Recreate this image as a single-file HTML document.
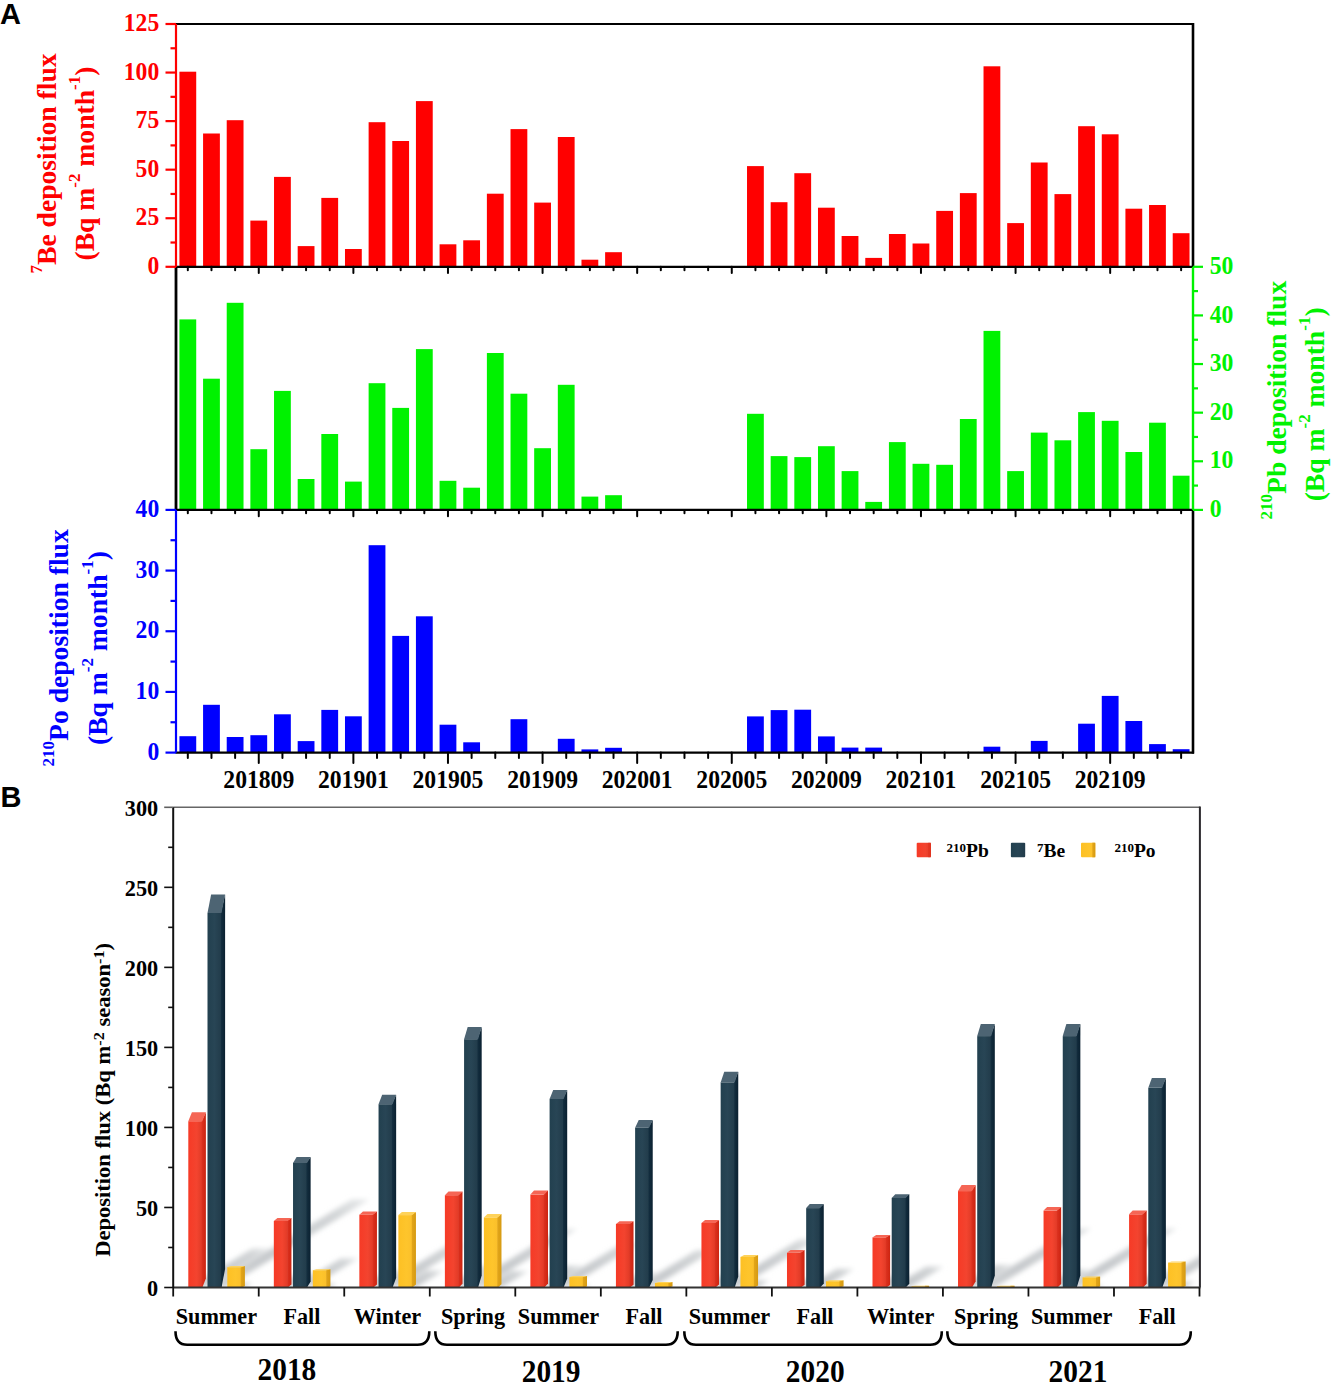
<!DOCTYPE html><html><head><meta charset="utf-8"><style>html,body{margin:0;padding:0;background:#fff;}svg{display:block}text{font-family:"Liberation Serif",serif;font-weight:bold}.sans{font-family:"Liberation Sans",sans-serif}</style></head><body>
<svg width="1333" height="1385" viewBox="0 0 1333 1385">
<rect width="1333" height="1385" fill="#fff"/>
<text class="sans" x="0" y="24" font-size="29" fill="#000">A</text>
<text class="sans" x="0.6" y="807.3" font-size="29" fill="#000">B</text>
<rect x="179.42" y="71.70" width="16.8" height="195.10" fill="#ff0000"/><rect x="203.07" y="133.50" width="16.8" height="133.30" fill="#ff0000"/><rect x="226.72" y="120.20" width="16.8" height="146.60" fill="#ff0000"/><rect x="250.37" y="220.60" width="16.8" height="46.20" fill="#ff0000"/><rect x="274.03" y="176.90" width="16.8" height="89.90" fill="#ff0000"/><rect x="297.68" y="246.10" width="16.8" height="20.70" fill="#ff0000"/><rect x="321.33" y="197.90" width="16.8" height="68.90" fill="#ff0000"/><rect x="344.98" y="249.00" width="16.8" height="17.80" fill="#ff0000"/><rect x="368.62" y="122.20" width="16.8" height="144.60" fill="#ff0000"/><rect x="392.27" y="141.00" width="16.8" height="125.80" fill="#ff0000"/><rect x="415.93" y="101.10" width="16.8" height="165.70" fill="#ff0000"/><rect x="439.57" y="244.30" width="16.8" height="22.50" fill="#ff0000"/><rect x="463.23" y="240.30" width="16.8" height="26.50" fill="#ff0000"/><rect x="486.88" y="193.70" width="16.8" height="73.10" fill="#ff0000"/><rect x="510.52" y="129.10" width="16.8" height="137.70" fill="#ff0000"/><rect x="534.18" y="202.60" width="16.8" height="64.20" fill="#ff0000"/><rect x="557.82" y="137.00" width="16.8" height="129.80" fill="#ff0000"/><rect x="581.48" y="259.70" width="16.8" height="7.10" fill="#ff0000"/><rect x="605.12" y="252.20" width="16.8" height="14.60" fill="#ff0000"/><rect x="747.02" y="166.10" width="16.8" height="100.70" fill="#ff0000"/><rect x="770.67" y="202.20" width="16.8" height="64.60" fill="#ff0000"/><rect x="794.32" y="173.20" width="16.8" height="93.60" fill="#ff0000"/><rect x="817.98" y="207.70" width="16.8" height="59.10" fill="#ff0000"/><rect x="841.62" y="236.00" width="16.8" height="30.80" fill="#ff0000"/><rect x="865.27" y="257.90" width="16.8" height="8.90" fill="#ff0000"/><rect x="888.92" y="234.00" width="16.8" height="32.80" fill="#ff0000"/><rect x="912.57" y="243.50" width="16.8" height="23.30" fill="#ff0000"/><rect x="936.23" y="210.90" width="16.8" height="55.90" fill="#ff0000"/><rect x="959.88" y="193.10" width="16.8" height="73.70" fill="#ff0000"/><rect x="983.52" y="66.30" width="16.8" height="200.50" fill="#ff0000"/><rect x="1007.17" y="223.10" width="16.8" height="43.70" fill="#ff0000"/><rect x="1030.82" y="162.50" width="16.8" height="104.30" fill="#ff0000"/><rect x="1054.47" y="194.10" width="16.8" height="72.70" fill="#ff0000"/><rect x="1078.12" y="126.20" width="16.8" height="140.60" fill="#ff0000"/><rect x="1101.77" y="134.30" width="16.8" height="132.50" fill="#ff0000"/><rect x="1125.42" y="208.70" width="16.8" height="58.10" fill="#ff0000"/><rect x="1149.07" y="205.00" width="16.8" height="61.80" fill="#ff0000"/><rect x="1172.72" y="233.20" width="16.8" height="33.60" fill="#ff0000"/>
<rect x="179.42" y="319.40" width="16.8" height="190.50" fill="#00f200"/><rect x="203.07" y="378.70" width="16.8" height="131.20" fill="#00f200"/><rect x="226.72" y="302.80" width="16.8" height="207.10" fill="#00f200"/><rect x="250.37" y="449.20" width="16.8" height="60.70" fill="#00f200"/><rect x="274.03" y="390.90" width="16.8" height="119.00" fill="#00f200"/><rect x="297.68" y="479.00" width="16.8" height="30.90" fill="#00f200"/><rect x="321.33" y="434.00" width="16.8" height="75.90" fill="#00f200"/><rect x="344.98" y="481.60" width="16.8" height="28.30" fill="#00f200"/><rect x="368.62" y="383.20" width="16.8" height="126.70" fill="#00f200"/><rect x="392.27" y="407.90" width="16.8" height="102.00" fill="#00f200"/><rect x="415.93" y="349.10" width="16.8" height="160.80" fill="#00f200"/><rect x="439.57" y="480.80" width="16.8" height="29.10" fill="#00f200"/><rect x="463.23" y="487.70" width="16.8" height="22.20" fill="#00f200"/><rect x="486.88" y="353.00" width="16.8" height="156.90" fill="#00f200"/><rect x="510.52" y="393.70" width="16.8" height="116.20" fill="#00f200"/><rect x="534.18" y="448.20" width="16.8" height="61.70" fill="#00f200"/><rect x="557.82" y="384.80" width="16.8" height="125.10" fill="#00f200"/><rect x="581.48" y="496.60" width="16.8" height="13.30" fill="#00f200"/><rect x="605.12" y="495.20" width="16.8" height="14.70" fill="#00f200"/><rect x="747.02" y="413.80" width="16.8" height="96.10" fill="#00f200"/><rect x="770.67" y="456.10" width="16.8" height="53.80" fill="#00f200"/><rect x="794.32" y="457.10" width="16.8" height="52.80" fill="#00f200"/><rect x="817.98" y="446.20" width="16.8" height="63.70" fill="#00f200"/><rect x="841.62" y="471.10" width="16.8" height="38.80" fill="#00f200"/><rect x="865.27" y="501.90" width="16.8" height="8.00" fill="#00f200"/><rect x="888.92" y="442.10" width="16.8" height="67.80" fill="#00f200"/><rect x="912.57" y="463.80" width="16.8" height="46.10" fill="#00f200"/><rect x="936.23" y="464.80" width="16.8" height="45.10" fill="#00f200"/><rect x="959.88" y="419.00" width="16.8" height="90.90" fill="#00f200"/><rect x="983.52" y="330.90" width="16.8" height="179.00" fill="#00f200"/><rect x="1007.17" y="471.10" width="16.8" height="38.80" fill="#00f200"/><rect x="1030.82" y="432.60" width="16.8" height="77.30" fill="#00f200"/><rect x="1054.47" y="440.30" width="16.8" height="69.60" fill="#00f200"/><rect x="1078.12" y="412.10" width="16.8" height="97.80" fill="#00f200"/><rect x="1101.77" y="420.80" width="16.8" height="89.10" fill="#00f200"/><rect x="1125.42" y="452.00" width="16.8" height="57.90" fill="#00f200"/><rect x="1149.07" y="422.70" width="16.8" height="87.20" fill="#00f200"/><rect x="1172.72" y="475.70" width="16.8" height="34.20" fill="#00f200"/>
<rect x="179.42" y="736.20" width="16.8" height="16.40" fill="#0000ff"/><rect x="203.07" y="704.80" width="16.8" height="47.80" fill="#0000ff"/><rect x="226.72" y="737.00" width="16.8" height="15.60" fill="#0000ff"/><rect x="250.37" y="735.20" width="16.8" height="17.40" fill="#0000ff"/><rect x="274.03" y="714.30" width="16.8" height="38.30" fill="#0000ff"/><rect x="297.68" y="741.10" width="16.8" height="11.50" fill="#0000ff"/><rect x="321.33" y="709.90" width="16.8" height="42.70" fill="#0000ff"/><rect x="344.98" y="716.30" width="16.8" height="36.30" fill="#0000ff"/><rect x="368.62" y="545.20" width="16.8" height="207.40" fill="#0000ff"/><rect x="392.27" y="635.90" width="16.8" height="116.70" fill="#0000ff"/><rect x="415.93" y="616.30" width="16.8" height="136.30" fill="#0000ff"/><rect x="439.57" y="724.70" width="16.8" height="27.90" fill="#0000ff"/><rect x="463.23" y="742.30" width="16.8" height="10.30" fill="#0000ff"/><rect x="510.52" y="719.20" width="16.8" height="33.40" fill="#0000ff"/><rect x="557.82" y="738.80" width="16.8" height="13.80" fill="#0000ff"/><rect x="581.48" y="749.40" width="16.8" height="3.20" fill="#0000ff"/><rect x="605.12" y="747.80" width="16.8" height="4.80" fill="#0000ff"/><rect x="747.02" y="716.40" width="16.8" height="36.20" fill="#0000ff"/><rect x="770.67" y="710.10" width="16.8" height="42.50" fill="#0000ff"/><rect x="794.32" y="709.70" width="16.8" height="42.90" fill="#0000ff"/><rect x="817.98" y="736.40" width="16.8" height="16.20" fill="#0000ff"/><rect x="841.62" y="747.60" width="16.8" height="5.00" fill="#0000ff"/><rect x="865.27" y="747.60" width="16.8" height="5.00" fill="#0000ff"/><rect x="983.52" y="746.70" width="16.8" height="5.90" fill="#0000ff"/><rect x="1030.82" y="740.90" width="16.8" height="11.70" fill="#0000ff"/><rect x="1078.12" y="723.70" width="16.8" height="28.90" fill="#0000ff"/><rect x="1101.77" y="695.90" width="16.8" height="56.70" fill="#0000ff"/><rect x="1125.42" y="721.00" width="16.8" height="31.60" fill="#0000ff"/><rect x="1149.07" y="744.10" width="16.8" height="8.50" fill="#0000ff"/><rect x="1172.72" y="749.20" width="16.8" height="3.40" fill="#0000ff"/>
<line x1="175.5" y1="266.8" x2="1194.0" y2="266.8" stroke="#000" stroke-width="2.2"/><line x1="187.82" y1="266.8" x2="187.82" y2="270.2" stroke="#000" stroke-width="2" stroke-linecap="round"/><line x1="211.47" y1="266.8" x2="211.47" y2="270.2" stroke="#000" stroke-width="2" stroke-linecap="round"/><line x1="235.12" y1="266.8" x2="235.12" y2="270.2" stroke="#000" stroke-width="2" stroke-linecap="round"/><line x1="258.77" y1="266.8" x2="258.77" y2="273.0" stroke="#000" stroke-width="2" stroke-linecap="round"/><line x1="282.43" y1="266.8" x2="282.43" y2="270.2" stroke="#000" stroke-width="2" stroke-linecap="round"/><line x1="306.07" y1="266.8" x2="306.07" y2="270.2" stroke="#000" stroke-width="2" stroke-linecap="round"/><line x1="329.73" y1="266.8" x2="329.73" y2="270.2" stroke="#000" stroke-width="2" stroke-linecap="round"/><line x1="353.38" y1="266.8" x2="353.38" y2="273.0" stroke="#000" stroke-width="2" stroke-linecap="round"/><line x1="377.02" y1="266.8" x2="377.02" y2="270.2" stroke="#000" stroke-width="2" stroke-linecap="round"/><line x1="400.67" y1="266.8" x2="400.67" y2="270.2" stroke="#000" stroke-width="2" stroke-linecap="round"/><line x1="424.32" y1="266.8" x2="424.32" y2="270.2" stroke="#000" stroke-width="2" stroke-linecap="round"/><line x1="447.97" y1="266.8" x2="447.97" y2="273.0" stroke="#000" stroke-width="2" stroke-linecap="round"/><line x1="471.62" y1="266.8" x2="471.62" y2="270.2" stroke="#000" stroke-width="2" stroke-linecap="round"/><line x1="495.27" y1="266.8" x2="495.27" y2="270.2" stroke="#000" stroke-width="2" stroke-linecap="round"/><line x1="518.92" y1="266.8" x2="518.92" y2="270.2" stroke="#000" stroke-width="2" stroke-linecap="round"/><line x1="542.58" y1="266.8" x2="542.58" y2="273.0" stroke="#000" stroke-width="2" stroke-linecap="round"/><line x1="566.22" y1="266.8" x2="566.22" y2="270.2" stroke="#000" stroke-width="2" stroke-linecap="round"/><line x1="589.88" y1="266.8" x2="589.88" y2="270.2" stroke="#000" stroke-width="2" stroke-linecap="round"/><line x1="613.52" y1="266.8" x2="613.52" y2="270.2" stroke="#000" stroke-width="2" stroke-linecap="round"/><line x1="637.17" y1="266.8" x2="637.17" y2="273.0" stroke="#000" stroke-width="2" stroke-linecap="round"/><line x1="660.83" y1="266.8" x2="660.83" y2="270.2" stroke="#000" stroke-width="2" stroke-linecap="round"/><line x1="684.47" y1="266.8" x2="684.47" y2="270.2" stroke="#000" stroke-width="2" stroke-linecap="round"/><line x1="708.12" y1="266.8" x2="708.12" y2="270.2" stroke="#000" stroke-width="2" stroke-linecap="round"/><line x1="731.77" y1="266.8" x2="731.77" y2="273.0" stroke="#000" stroke-width="2" stroke-linecap="round"/><line x1="755.42" y1="266.8" x2="755.42" y2="270.2" stroke="#000" stroke-width="2" stroke-linecap="round"/><line x1="779.07" y1="266.8" x2="779.07" y2="270.2" stroke="#000" stroke-width="2" stroke-linecap="round"/><line x1="802.72" y1="266.8" x2="802.72" y2="270.2" stroke="#000" stroke-width="2" stroke-linecap="round"/><line x1="826.38" y1="266.8" x2="826.38" y2="273.0" stroke="#000" stroke-width="2" stroke-linecap="round"/><line x1="850.02" y1="266.8" x2="850.02" y2="270.2" stroke="#000" stroke-width="2" stroke-linecap="round"/><line x1="873.67" y1="266.8" x2="873.67" y2="270.2" stroke="#000" stroke-width="2" stroke-linecap="round"/><line x1="897.32" y1="266.8" x2="897.32" y2="270.2" stroke="#000" stroke-width="2" stroke-linecap="round"/><line x1="920.97" y1="266.8" x2="920.97" y2="273.0" stroke="#000" stroke-width="2" stroke-linecap="round"/><line x1="944.62" y1="266.8" x2="944.62" y2="270.2" stroke="#000" stroke-width="2" stroke-linecap="round"/><line x1="968.27" y1="266.8" x2="968.27" y2="270.2" stroke="#000" stroke-width="2" stroke-linecap="round"/><line x1="991.92" y1="266.8" x2="991.92" y2="270.2" stroke="#000" stroke-width="2" stroke-linecap="round"/><line x1="1015.57" y1="266.8" x2="1015.57" y2="273.0" stroke="#000" stroke-width="2" stroke-linecap="round"/><line x1="1039.22" y1="266.8" x2="1039.22" y2="270.2" stroke="#000" stroke-width="2" stroke-linecap="round"/><line x1="1062.88" y1="266.8" x2="1062.88" y2="270.2" stroke="#000" stroke-width="2" stroke-linecap="round"/><line x1="1086.53" y1="266.8" x2="1086.53" y2="270.2" stroke="#000" stroke-width="2" stroke-linecap="round"/><line x1="1110.17" y1="266.8" x2="1110.17" y2="273.0" stroke="#000" stroke-width="2" stroke-linecap="round"/><line x1="1133.82" y1="266.8" x2="1133.82" y2="270.2" stroke="#000" stroke-width="2" stroke-linecap="round"/><line x1="1157.47" y1="266.8" x2="1157.47" y2="270.2" stroke="#000" stroke-width="2" stroke-linecap="round"/><line x1="1181.12" y1="266.8" x2="1181.12" y2="270.2" stroke="#000" stroke-width="2" stroke-linecap="round"/>
<line x1="175.5" y1="509.9" x2="1194.0" y2="509.9" stroke="#000" stroke-width="2.2"/><line x1="187.82" y1="509.9" x2="187.82" y2="513.1999999999999" stroke="#000" stroke-width="2" stroke-linecap="round"/><line x1="211.47" y1="509.9" x2="211.47" y2="513.1999999999999" stroke="#000" stroke-width="2" stroke-linecap="round"/><line x1="235.12" y1="509.9" x2="235.12" y2="513.1999999999999" stroke="#000" stroke-width="2" stroke-linecap="round"/><line x1="258.77" y1="509.9" x2="258.77" y2="516.1999999999999" stroke="#000" stroke-width="2" stroke-linecap="round"/><line x1="282.43" y1="509.9" x2="282.43" y2="513.1999999999999" stroke="#000" stroke-width="2" stroke-linecap="round"/><line x1="306.07" y1="509.9" x2="306.07" y2="513.1999999999999" stroke="#000" stroke-width="2" stroke-linecap="round"/><line x1="329.73" y1="509.9" x2="329.73" y2="513.1999999999999" stroke="#000" stroke-width="2" stroke-linecap="round"/><line x1="353.38" y1="509.9" x2="353.38" y2="516.1999999999999" stroke="#000" stroke-width="2" stroke-linecap="round"/><line x1="377.02" y1="509.9" x2="377.02" y2="513.1999999999999" stroke="#000" stroke-width="2" stroke-linecap="round"/><line x1="400.67" y1="509.9" x2="400.67" y2="513.1999999999999" stroke="#000" stroke-width="2" stroke-linecap="round"/><line x1="424.32" y1="509.9" x2="424.32" y2="513.1999999999999" stroke="#000" stroke-width="2" stroke-linecap="round"/><line x1="447.97" y1="509.9" x2="447.97" y2="516.1999999999999" stroke="#000" stroke-width="2" stroke-linecap="round"/><line x1="471.62" y1="509.9" x2="471.62" y2="513.1999999999999" stroke="#000" stroke-width="2" stroke-linecap="round"/><line x1="495.27" y1="509.9" x2="495.27" y2="513.1999999999999" stroke="#000" stroke-width="2" stroke-linecap="round"/><line x1="518.92" y1="509.9" x2="518.92" y2="513.1999999999999" stroke="#000" stroke-width="2" stroke-linecap="round"/><line x1="542.58" y1="509.9" x2="542.58" y2="516.1999999999999" stroke="#000" stroke-width="2" stroke-linecap="round"/><line x1="566.22" y1="509.9" x2="566.22" y2="513.1999999999999" stroke="#000" stroke-width="2" stroke-linecap="round"/><line x1="589.88" y1="509.9" x2="589.88" y2="513.1999999999999" stroke="#000" stroke-width="2" stroke-linecap="round"/><line x1="613.52" y1="509.9" x2="613.52" y2="513.1999999999999" stroke="#000" stroke-width="2" stroke-linecap="round"/><line x1="637.17" y1="509.9" x2="637.17" y2="516.1999999999999" stroke="#000" stroke-width="2" stroke-linecap="round"/><line x1="660.83" y1="509.9" x2="660.83" y2="513.1999999999999" stroke="#000" stroke-width="2" stroke-linecap="round"/><line x1="684.47" y1="509.9" x2="684.47" y2="513.1999999999999" stroke="#000" stroke-width="2" stroke-linecap="round"/><line x1="708.12" y1="509.9" x2="708.12" y2="513.1999999999999" stroke="#000" stroke-width="2" stroke-linecap="round"/><line x1="731.77" y1="509.9" x2="731.77" y2="516.1999999999999" stroke="#000" stroke-width="2" stroke-linecap="round"/><line x1="755.42" y1="509.9" x2="755.42" y2="513.1999999999999" stroke="#000" stroke-width="2" stroke-linecap="round"/><line x1="779.07" y1="509.9" x2="779.07" y2="513.1999999999999" stroke="#000" stroke-width="2" stroke-linecap="round"/><line x1="802.72" y1="509.9" x2="802.72" y2="513.1999999999999" stroke="#000" stroke-width="2" stroke-linecap="round"/><line x1="826.38" y1="509.9" x2="826.38" y2="516.1999999999999" stroke="#000" stroke-width="2" stroke-linecap="round"/><line x1="850.02" y1="509.9" x2="850.02" y2="513.1999999999999" stroke="#000" stroke-width="2" stroke-linecap="round"/><line x1="873.67" y1="509.9" x2="873.67" y2="513.1999999999999" stroke="#000" stroke-width="2" stroke-linecap="round"/><line x1="897.32" y1="509.9" x2="897.32" y2="513.1999999999999" stroke="#000" stroke-width="2" stroke-linecap="round"/><line x1="920.97" y1="509.9" x2="920.97" y2="516.1999999999999" stroke="#000" stroke-width="2" stroke-linecap="round"/><line x1="944.62" y1="509.9" x2="944.62" y2="513.1999999999999" stroke="#000" stroke-width="2" stroke-linecap="round"/><line x1="968.27" y1="509.9" x2="968.27" y2="513.1999999999999" stroke="#000" stroke-width="2" stroke-linecap="round"/><line x1="991.92" y1="509.9" x2="991.92" y2="513.1999999999999" stroke="#000" stroke-width="2" stroke-linecap="round"/><line x1="1015.57" y1="509.9" x2="1015.57" y2="516.1999999999999" stroke="#000" stroke-width="2" stroke-linecap="round"/><line x1="1039.22" y1="509.9" x2="1039.22" y2="513.1999999999999" stroke="#000" stroke-width="2" stroke-linecap="round"/><line x1="1062.88" y1="509.9" x2="1062.88" y2="513.1999999999999" stroke="#000" stroke-width="2" stroke-linecap="round"/><line x1="1086.53" y1="509.9" x2="1086.53" y2="513.1999999999999" stroke="#000" stroke-width="2" stroke-linecap="round"/><line x1="1110.17" y1="509.9" x2="1110.17" y2="516.1999999999999" stroke="#000" stroke-width="2" stroke-linecap="round"/><line x1="1133.82" y1="509.9" x2="1133.82" y2="513.1999999999999" stroke="#000" stroke-width="2" stroke-linecap="round"/><line x1="1157.47" y1="509.9" x2="1157.47" y2="513.1999999999999" stroke="#000" stroke-width="2" stroke-linecap="round"/><line x1="1181.12" y1="509.9" x2="1181.12" y2="513.1999999999999" stroke="#000" stroke-width="2" stroke-linecap="round"/>
<line x1="175.5" y1="752.6" x2="1194.0" y2="752.6" stroke="#000" stroke-width="2.2"/><line x1="187.82" y1="752.6" x2="187.82" y2="758.1" stroke="#000" stroke-width="2" stroke-linecap="round"/><line x1="211.47" y1="752.6" x2="211.47" y2="758.1" stroke="#000" stroke-width="2" stroke-linecap="round"/><line x1="235.12" y1="752.6" x2="235.12" y2="758.1" stroke="#000" stroke-width="2" stroke-linecap="round"/><line x1="258.77" y1="752.6" x2="258.77" y2="763.0" stroke="#000" stroke-width="2" stroke-linecap="round"/><line x1="282.43" y1="752.6" x2="282.43" y2="758.1" stroke="#000" stroke-width="2" stroke-linecap="round"/><line x1="306.07" y1="752.6" x2="306.07" y2="758.1" stroke="#000" stroke-width="2" stroke-linecap="round"/><line x1="329.73" y1="752.6" x2="329.73" y2="758.1" stroke="#000" stroke-width="2" stroke-linecap="round"/><line x1="353.38" y1="752.6" x2="353.38" y2="763.0" stroke="#000" stroke-width="2" stroke-linecap="round"/><line x1="377.02" y1="752.6" x2="377.02" y2="758.1" stroke="#000" stroke-width="2" stroke-linecap="round"/><line x1="400.67" y1="752.6" x2="400.67" y2="758.1" stroke="#000" stroke-width="2" stroke-linecap="round"/><line x1="424.32" y1="752.6" x2="424.32" y2="758.1" stroke="#000" stroke-width="2" stroke-linecap="round"/><line x1="447.97" y1="752.6" x2="447.97" y2="763.0" stroke="#000" stroke-width="2" stroke-linecap="round"/><line x1="471.62" y1="752.6" x2="471.62" y2="758.1" stroke="#000" stroke-width="2" stroke-linecap="round"/><line x1="495.27" y1="752.6" x2="495.27" y2="758.1" stroke="#000" stroke-width="2" stroke-linecap="round"/><line x1="518.92" y1="752.6" x2="518.92" y2="758.1" stroke="#000" stroke-width="2" stroke-linecap="round"/><line x1="542.58" y1="752.6" x2="542.58" y2="763.0" stroke="#000" stroke-width="2" stroke-linecap="round"/><line x1="566.22" y1="752.6" x2="566.22" y2="758.1" stroke="#000" stroke-width="2" stroke-linecap="round"/><line x1="589.88" y1="752.6" x2="589.88" y2="758.1" stroke="#000" stroke-width="2" stroke-linecap="round"/><line x1="613.52" y1="752.6" x2="613.52" y2="758.1" stroke="#000" stroke-width="2" stroke-linecap="round"/><line x1="637.17" y1="752.6" x2="637.17" y2="763.0" stroke="#000" stroke-width="2" stroke-linecap="round"/><line x1="660.83" y1="752.6" x2="660.83" y2="758.1" stroke="#000" stroke-width="2" stroke-linecap="round"/><line x1="684.47" y1="752.6" x2="684.47" y2="758.1" stroke="#000" stroke-width="2" stroke-linecap="round"/><line x1="708.12" y1="752.6" x2="708.12" y2="758.1" stroke="#000" stroke-width="2" stroke-linecap="round"/><line x1="731.77" y1="752.6" x2="731.77" y2="763.0" stroke="#000" stroke-width="2" stroke-linecap="round"/><line x1="755.42" y1="752.6" x2="755.42" y2="758.1" stroke="#000" stroke-width="2" stroke-linecap="round"/><line x1="779.07" y1="752.6" x2="779.07" y2="758.1" stroke="#000" stroke-width="2" stroke-linecap="round"/><line x1="802.72" y1="752.6" x2="802.72" y2="758.1" stroke="#000" stroke-width="2" stroke-linecap="round"/><line x1="826.38" y1="752.6" x2="826.38" y2="763.0" stroke="#000" stroke-width="2" stroke-linecap="round"/><line x1="850.02" y1="752.6" x2="850.02" y2="758.1" stroke="#000" stroke-width="2" stroke-linecap="round"/><line x1="873.67" y1="752.6" x2="873.67" y2="758.1" stroke="#000" stroke-width="2" stroke-linecap="round"/><line x1="897.32" y1="752.6" x2="897.32" y2="758.1" stroke="#000" stroke-width="2" stroke-linecap="round"/><line x1="920.97" y1="752.6" x2="920.97" y2="763.0" stroke="#000" stroke-width="2" stroke-linecap="round"/><line x1="944.62" y1="752.6" x2="944.62" y2="758.1" stroke="#000" stroke-width="2" stroke-linecap="round"/><line x1="968.27" y1="752.6" x2="968.27" y2="758.1" stroke="#000" stroke-width="2" stroke-linecap="round"/><line x1="991.92" y1="752.6" x2="991.92" y2="758.1" stroke="#000" stroke-width="2" stroke-linecap="round"/><line x1="1015.57" y1="752.6" x2="1015.57" y2="763.0" stroke="#000" stroke-width="2" stroke-linecap="round"/><line x1="1039.22" y1="752.6" x2="1039.22" y2="758.1" stroke="#000" stroke-width="2" stroke-linecap="round"/><line x1="1062.88" y1="752.6" x2="1062.88" y2="758.1" stroke="#000" stroke-width="2" stroke-linecap="round"/><line x1="1086.53" y1="752.6" x2="1086.53" y2="758.1" stroke="#000" stroke-width="2" stroke-linecap="round"/><line x1="1110.17" y1="752.6" x2="1110.17" y2="763.0" stroke="#000" stroke-width="2" stroke-linecap="round"/><line x1="1133.82" y1="752.6" x2="1133.82" y2="758.1" stroke="#000" stroke-width="2" stroke-linecap="round"/><line x1="1157.47" y1="752.6" x2="1157.47" y2="758.1" stroke="#000" stroke-width="2" stroke-linecap="round"/><line x1="1181.12" y1="752.6" x2="1181.12" y2="758.1" stroke="#000" stroke-width="2" stroke-linecap="round"/>
<line x1="176.0" y1="24.0" x2="1194.0" y2="24.0" stroke="#000" stroke-width="2.2"/>
<line x1="1193.0" y1="23.0" x2="1193.0" y2="266.8" stroke="#000" stroke-width="2.6"/>
<line x1="1193.0" y1="509.9" x2="1193.0" y2="753.6" stroke="#000" stroke-width="2.6"/>
<line x1="176.0" y1="266.8" x2="176.0" y2="509.9" stroke="#000" stroke-width="2.8"/>
<line x1="176.0" y1="24.0" x2="176.0" y2="266.8" stroke="#ff0000" stroke-width="2.2"/><line x1="165.5" y1="266.80" x2="176.0" y2="266.80" stroke="#ff0000" stroke-width="2.2"/><text transform="translate(159.2,274.00) scale(0.985,1.09)" font-size="24" fill="#ff0000" text-anchor="end">0</text><line x1="170.5" y1="242.52" x2="176.0" y2="242.52" stroke="#ff0000" stroke-width="2.2"/><line x1="165.5" y1="218.24" x2="176.0" y2="218.24" stroke="#ff0000" stroke-width="2.2"/><text transform="translate(159.2,225.44) scale(0.985,1.09)" font-size="24" fill="#ff0000" text-anchor="end">25</text><line x1="170.5" y1="193.96" x2="176.0" y2="193.96" stroke="#ff0000" stroke-width="2.2"/><line x1="165.5" y1="169.68" x2="176.0" y2="169.68" stroke="#ff0000" stroke-width="2.2"/><text transform="translate(159.2,176.88) scale(0.985,1.09)" font-size="24" fill="#ff0000" text-anchor="end">50</text><line x1="170.5" y1="145.40" x2="176.0" y2="145.40" stroke="#ff0000" stroke-width="2.2"/><line x1="165.5" y1="121.12" x2="176.0" y2="121.12" stroke="#ff0000" stroke-width="2.2"/><text transform="translate(159.2,128.32) scale(0.985,1.09)" font-size="24" fill="#ff0000" text-anchor="end">75</text><line x1="170.5" y1="96.84" x2="176.0" y2="96.84" stroke="#ff0000" stroke-width="2.2"/><line x1="165.5" y1="72.56" x2="176.0" y2="72.56" stroke="#ff0000" stroke-width="2.2"/><text transform="translate(159.2,79.76) scale(0.985,1.09)" font-size="24" fill="#ff0000" text-anchor="end">100</text><line x1="170.5" y1="48.28" x2="176.0" y2="48.28" stroke="#ff0000" stroke-width="2.2"/><line x1="165.5" y1="24.00" x2="176.0" y2="24.00" stroke="#ff0000" stroke-width="2.2"/><text transform="translate(159.2,31.20) scale(0.985,1.09)" font-size="24" fill="#ff0000" text-anchor="end">125</text>
<line x1="176.0" y1="509.9" x2="176.0" y2="752.6" stroke="#0000ff" stroke-width="2.2"/><line x1="165.5" y1="752.60" x2="176.0" y2="752.60" stroke="#0000ff" stroke-width="2.2"/><text transform="translate(159.2,759.80) scale(0.985,1.09)" font-size="24" fill="#0000ff" text-anchor="end">0</text><line x1="170.5" y1="722.26" x2="176.0" y2="722.26" stroke="#0000ff" stroke-width="2.2"/><line x1="165.5" y1="691.92" x2="176.0" y2="691.92" stroke="#0000ff" stroke-width="2.2"/><text transform="translate(159.2,699.12) scale(0.985,1.09)" font-size="24" fill="#0000ff" text-anchor="end">10</text><line x1="170.5" y1="661.59" x2="176.0" y2="661.59" stroke="#0000ff" stroke-width="2.2"/><line x1="165.5" y1="631.25" x2="176.0" y2="631.25" stroke="#0000ff" stroke-width="2.2"/><text transform="translate(159.2,638.45) scale(0.985,1.09)" font-size="24" fill="#0000ff" text-anchor="end">20</text><line x1="170.5" y1="600.91" x2="176.0" y2="600.91" stroke="#0000ff" stroke-width="2.2"/><line x1="165.5" y1="570.58" x2="176.0" y2="570.58" stroke="#0000ff" stroke-width="2.2"/><text transform="translate(159.2,577.78) scale(0.985,1.09)" font-size="24" fill="#0000ff" text-anchor="end">30</text><line x1="170.5" y1="540.24" x2="176.0" y2="540.24" stroke="#0000ff" stroke-width="2.2"/><line x1="165.5" y1="509.90" x2="176.0" y2="509.90" stroke="#0000ff" stroke-width="2.2"/><text transform="translate(159.2,517.10) scale(0.985,1.09)" font-size="24" fill="#0000ff" text-anchor="end">40</text>
<line x1="1193.0" y1="266.8" x2="1193.0" y2="509.9" stroke="#00f200" stroke-width="2.4"/><line x1="1193.0" y1="509.90" x2="1203.0" y2="509.90" stroke="#00f200" stroke-width="2.2"/><text transform="translate(1209.8,517.10) scale(0.985,1.09)" font-size="24" fill="#00f200">0</text><line x1="1193.0" y1="485.59" x2="1198.0" y2="485.59" stroke="#00f200" stroke-width="2.2"/><line x1="1193.0" y1="461.28" x2="1203.0" y2="461.28" stroke="#00f200" stroke-width="2.2"/><text transform="translate(1209.8,468.48) scale(0.985,1.09)" font-size="24" fill="#00f200">10</text><line x1="1193.0" y1="436.97" x2="1198.0" y2="436.97" stroke="#00f200" stroke-width="2.2"/><line x1="1193.0" y1="412.66" x2="1203.0" y2="412.66" stroke="#00f200" stroke-width="2.2"/><text transform="translate(1209.8,419.86) scale(0.985,1.09)" font-size="24" fill="#00f200">20</text><line x1="1193.0" y1="388.35" x2="1198.0" y2="388.35" stroke="#00f200" stroke-width="2.2"/><line x1="1193.0" y1="364.04" x2="1203.0" y2="364.04" stroke="#00f200" stroke-width="2.2"/><text transform="translate(1209.8,371.24) scale(0.985,1.09)" font-size="24" fill="#00f200">30</text><line x1="1193.0" y1="339.73" x2="1198.0" y2="339.73" stroke="#00f200" stroke-width="2.2"/><line x1="1193.0" y1="315.42" x2="1203.0" y2="315.42" stroke="#00f200" stroke-width="2.2"/><text transform="translate(1209.8,322.62) scale(0.985,1.09)" font-size="24" fill="#00f200">40</text><line x1="1193.0" y1="291.11" x2="1198.0" y2="291.11" stroke="#00f200" stroke-width="2.2"/><line x1="1193.0" y1="266.80" x2="1203.0" y2="266.80" stroke="#00f200" stroke-width="2.2"/><text transform="translate(1209.8,274.00) scale(0.985,1.09)" font-size="24" fill="#00f200">50</text>
<text transform="translate(258.77,787.6) scale(0.985,1.09)" font-size="24" fill="#000" text-anchor="middle">201809</text>
<text transform="translate(353.38,787.6) scale(0.985,1.09)" font-size="24" fill="#000" text-anchor="middle">201901</text>
<text transform="translate(447.97,787.6) scale(0.985,1.09)" font-size="24" fill="#000" text-anchor="middle">201905</text>
<text transform="translate(542.58,787.6) scale(0.985,1.09)" font-size="24" fill="#000" text-anchor="middle">201909</text>
<text transform="translate(637.17,787.6) scale(0.985,1.09)" font-size="24" fill="#000" text-anchor="middle">202001</text>
<text transform="translate(731.77,787.6) scale(0.985,1.09)" font-size="24" fill="#000" text-anchor="middle">202005</text>
<text transform="translate(826.38,787.6) scale(0.985,1.09)" font-size="24" fill="#000" text-anchor="middle">202009</text>
<text transform="translate(920.97,787.6) scale(0.985,1.09)" font-size="24" fill="#000" text-anchor="middle">202101</text>
<text transform="translate(1015.57,787.6) scale(0.985,1.09)" font-size="24" fill="#000" text-anchor="middle">202105</text>
<text transform="translate(1110.17,787.6) scale(0.985,1.09)" font-size="24" fill="#000" text-anchor="middle">202109</text>
<text transform="translate(56.2,53.4) rotate(-90)" fill="#ff0000" font-size="27.6" text-anchor="end"><tspan font-size="17" dy="-14">7</tspan><tspan dy="14">Be deposition flux</tspan></text><text transform="translate(94.0,66.6) rotate(-90)" fill="#ff0000" font-size="27.6" text-anchor="end">(Bq m<tspan font-size="17" dy="-14">-2</tspan><tspan dy="14"> month</tspan><tspan font-size="17" dy="-14">-1</tspan><tspan dy="14">)</tspan></text>
<text transform="translate(67.9,529.3) rotate(-90)" fill="#0000ff" font-size="27.6" text-anchor="end"><tspan font-size="17" dy="-14">210</tspan><tspan dy="14">Po deposition flux</tspan></text><text transform="translate(106.6,551.1) rotate(-90)" fill="#0000ff" font-size="27.6" text-anchor="end">(Bq m<tspan font-size="17" dy="-14">-2</tspan><tspan dy="14"> month</tspan><tspan font-size="17" dy="-14">-1</tspan><tspan dy="14">)</tspan></text>
<text transform="translate(1285.6,280.8) rotate(-90)" fill="#00f200" font-size="27.6" text-anchor="end"><tspan font-size="17" dy="-14">210</tspan><tspan dy="14">Pb deposition flux</tspan></text><text transform="translate(1323.8,307.4) rotate(-90)" fill="#00f200" font-size="27.6" text-anchor="end">(Bq m<tspan font-size="17" dy="-14">-2</tspan><tspan dy="14"> month</tspan><tspan font-size="17" dy="-14">-1</tspan><tspan dy="14">)</tspan></text>
<defs><linearGradient id="gr" x1="0" x2="1" y1="0" y2="0"><stop offset="0" stop-color="#f63a26"/><stop offset="0.6" stop-color="#f3442f"/><stop offset="1" stop-color="#e03a26"/></linearGradient><linearGradient id="gd" x1="0" x2="1" y1="0" y2="0"><stop offset="0" stop-color="#22404f"/><stop offset="0.5" stop-color="#284555"/><stop offset="1" stop-color="#213b4a"/></linearGradient><linearGradient id="gy" x1="0" x2="1" y1="0" y2="0"><stop offset="0" stop-color="#fdc024"/><stop offset="0.6" stop-color="#fec52c"/><stop offset="1" stop-color="#fbbf2a"/></linearGradient><linearGradient id="sr" x1="0" x2="1" y1="0" y2="0"><stop offset="0" stop-color="#dd3220"/><stop offset="1" stop-color="#cc2410"/></linearGradient><linearGradient id="sd" x1="0" x2="1" y1="0" y2="0"><stop offset="0" stop-color="#142f40"/><stop offset="1" stop-color="#0a2030"/></linearGradient><linearGradient id="sy" x1="0" x2="1" y1="0" y2="0"><stop offset="0" stop-color="#e3a61a"/><stop offset="1" stop-color="#d69a12"/></linearGradient><linearGradient id="shg" x1="0" y1="1" x2="1" y2="0"><stop offset="0" stop-color="#cfd2d4"/><stop offset="0.35" stop-color="#c6c9cc"/><stop offset="0.8" stop-color="#d1d4d6"/><stop offset="1" stop-color="#e8eaeb"/></linearGradient><filter id="blur" x="-50%" y="-50%" width="200%" height="200%"><feGaussianBlur stdDeviation="2.4"/></filter></defs>
<clipPath id="pb"><rect x="174" y="808" width="1025" height="479.5"/></clipPath><g clip-path="url(#pb)"><g filter="url(#blur)" fill="url(#shg)">
<polygon points="188.3,1287.5 205.9,1287.5 269.9,1248.4 252.3,1248.4"/>
<polygon points="207.5,1287.5 225.1,1287.5 369.3,1199.5 351.7,1199.5"/>
<polygon points="227.3,1287.5 244.9,1287.5 252.7,1282.7 235.1,1282.7"/>
<polygon points="273.8,1287.5 291.4,1287.5 317.0,1271.9 299.4,1271.9"/>
<polygon points="293.0,1287.5 310.6,1287.5 358.6,1258.2 341.0,1258.2"/>
<polygon points="312.8,1287.5 330.4,1287.5 337.1,1283.4 319.5,1283.4"/>
<polygon points="359.4,1287.5 377.0,1287.5 405.0,1270.4 387.4,1270.4"/>
<polygon points="378.6,1287.5 396.2,1287.5 466.7,1244.4 449.1,1244.4"/>
<polygon points="398.4,1287.5 416.0,1287.5 443.8,1270.5 426.2,1270.5"/>
<polygon points="444.9,1287.5 462.5,1287.5 498.0,1265.8 480.4,1265.8"/>
<polygon points="464.1,1287.5 481.7,1287.5 577.3,1229.1 559.7,1229.1"/>
<polygon points="483.9,1287.5 501.5,1287.5 528.5,1271.0 510.9,1271.0"/>
<polygon points="530.4,1287.5 548.0,1287.5 583.8,1265.7 566.2,1265.7"/>
<polygon points="549.6,1287.5 567.2,1287.5 639.8,1243.2 622.2,1243.2"/>
<polygon points="569.4,1287.5 587.0,1287.5 591.0,1285.1 573.4,1285.1"/>
<polygon points="615.9,1287.5 633.5,1287.5 658.0,1272.6 640.4,1272.6"/>
<polygon points="635.1,1287.5 652.7,1287.5 714.2,1249.9 696.6,1249.9"/>
<polygon points="654.9,1287.5 672.5,1287.5 674.3,1286.4 656.7,1286.4"/>
<polygon points="701.5,1287.5 719.1,1287.5 743.9,1272.3 726.3,1272.3"/>
<polygon points="720.7,1287.5 738.3,1287.5 817.2,1239.3 799.6,1239.3"/>
<polygon points="740.5,1287.5 758.1,1287.5 769.8,1280.3 752.2,1280.3"/>
<polygon points="787.0,1287.5 804.6,1287.5 817.9,1279.3 800.3,1279.3"/>
<polygon points="806.2,1287.5 823.8,1287.5 854.3,1268.8 836.7,1268.8"/>
<polygon points="826.0,1287.5 843.6,1287.5 846.0,1286.0 828.4,1286.0"/>
<polygon points="872.5,1287.5 890.1,1287.5 909.4,1275.7 891.8,1275.7"/>
<polygon points="891.7,1287.5 909.3,1287.5 943.8,1266.4 926.2,1266.4"/>
<polygon points="911.5,1287.5 929.1,1287.5 929.6,1287.2 912.0,1287.2"/>
<polygon points="958.0,1287.5 975.6,1287.5 1012.7,1264.8 995.1,1264.8"/>
<polygon points="977.2,1287.5 994.8,1287.5 1091.6,1228.4 1074.0,1228.4"/>
<polygon points="997.0,1287.5 1014.6,1287.5 1015.1,1287.2 997.5,1287.2"/>
<polygon points="1043.5,1287.5 1061.1,1287.5 1090.8,1269.4 1073.2,1269.4"/>
<polygon points="1062.8,1287.5 1080.3,1287.5 1177.1,1228.4 1159.5,1228.4"/>
<polygon points="1082.5,1287.5 1100.1,1287.5 1104.0,1285.1 1086.4,1285.1"/>
<polygon points="1129.1,1287.5 1146.7,1287.5 1174.9,1270.3 1157.3,1270.3"/>
<polygon points="1148.3,1287.5 1165.9,1287.5 1242.8,1240.6 1225.2,1240.6"/>
<polygon points="1168.1,1287.5 1185.7,1287.5 1195.3,1281.6 1177.7,1281.6"/>
</g></g>
<rect x="188.30" y="1121.20" width="14.0" height="166.30" fill="url(#gr)"/><polygon points="201.70,1121.20 201.70,1120.70 205.90,1112.20 205.90,1278.50 202.30,1287.5 201.70,1287.5" fill="url(#sr)"/><polygon points="188.30,1121.20 191.90,1112.20 205.90,1112.20 202.30,1121.20" fill="#f56655"/>
<rect x="207.50" y="913.00" width="14.0" height="374.50" fill="url(#gd)"/><polygon points="220.90,913.00 220.90,912.50 225.10,894.40 225.10,1268.90 221.50,1287.5 220.90,1287.5" fill="url(#sd)"/><polygon points="207.50,913.00 211.10,894.40 225.10,894.40 221.50,913.00" fill="#4d6473"/>
<rect x="227.30" y="1267.20" width="14.0" height="20.30" fill="url(#gy)"/><polygon points="240.70,1267.20 240.70,1266.70 244.90,1266.00 244.90,1286.30 241.30,1287.5 240.70,1287.5" fill="url(#sy)"/><polygon points="227.30,1267.20 230.90,1266.00 244.90,1266.00 241.30,1267.20" fill="#fed25a"/>
<rect x="273.83" y="1221.00" width="14.0" height="66.50" fill="url(#gr)"/><polygon points="287.23,1221.00 287.23,1220.50 291.43,1218.00 291.43,1284.50 287.83,1287.5 287.23,1287.5" fill="url(#sr)"/><polygon points="273.83,1221.00 277.43,1218.00 291.43,1218.00 287.83,1221.00" fill="#f56655"/>
<rect x="293.03" y="1162.90" width="14.0" height="124.60" fill="url(#gd)"/><polygon points="306.43,1162.90 306.43,1162.40 310.63,1156.90 310.63,1281.50 307.03,1287.5 306.43,1287.5" fill="url(#sd)"/><polygon points="293.03,1162.90 296.63,1156.90 310.63,1156.90 307.03,1162.90" fill="#4d6473"/>
<rect x="312.83" y="1270.20" width="14.0" height="17.30" fill="url(#gy)"/><polygon points="326.23,1270.20 326.23,1269.70 330.43,1269.20 330.43,1286.50 326.83,1287.5 326.23,1287.5" fill="url(#sy)"/><polygon points="312.83,1270.20 316.43,1269.20 330.43,1269.20 326.83,1270.20" fill="#fed25a"/>
<rect x="359.35" y="1214.70" width="14.0" height="72.80" fill="url(#gr)"/><polygon points="372.75,1214.70 372.75,1214.20 376.95,1211.60 376.95,1284.40 373.35,1287.5 372.75,1287.5" fill="url(#sr)"/><polygon points="359.35,1214.70 362.95,1211.60 376.95,1211.60 373.35,1214.70" fill="#f56655"/>
<rect x="378.55" y="1104.20" width="14.0" height="183.30" fill="url(#gd)"/><polygon points="391.95,1104.20 391.95,1103.70 396.15,1094.80 396.15,1278.10 392.55,1287.5 391.95,1287.5" fill="url(#sd)"/><polygon points="378.55,1104.20 382.15,1094.80 396.15,1094.80 392.55,1104.20" fill="#4d6473"/>
<rect x="398.35" y="1215.10" width="14.0" height="72.40" fill="url(#gy)"/><polygon points="411.75,1215.10 411.75,1214.60 415.95,1212.00 415.95,1284.40 412.35,1287.5 411.75,1287.5" fill="url(#sy)"/><polygon points="398.35,1215.10 401.95,1212.00 415.95,1212.00 412.35,1215.10" fill="#fed25a"/>
<rect x="444.88" y="1195.20" width="14.0" height="92.30" fill="url(#gr)"/><polygon points="458.28,1195.20 458.28,1194.70 462.48,1191.50 462.48,1283.80 458.88,1287.5 458.28,1287.5" fill="url(#sr)"/><polygon points="444.88,1195.20 448.48,1191.50 462.48,1191.50 458.88,1195.20" fill="#f56655"/>
<rect x="464.08" y="1039.20" width="14.0" height="248.30" fill="url(#gd)"/><polygon points="477.48,1039.20 477.48,1038.70 481.68,1027.10 481.68,1275.40 478.08,1287.5 477.48,1287.5" fill="url(#sd)"/><polygon points="464.08,1039.20 467.68,1027.10 481.68,1027.10 478.08,1039.20" fill="#4d6473"/>
<rect x="483.88" y="1217.40" width="14.0" height="70.10" fill="url(#gy)"/><polygon points="497.28,1217.40 497.28,1216.90 501.48,1214.10 501.48,1284.20 497.88,1287.5 497.28,1287.5" fill="url(#sy)"/><polygon points="483.88,1217.40 487.48,1214.10 501.48,1214.10 497.88,1217.40" fill="#fed25a"/>
<rect x="530.40" y="1194.60" width="14.0" height="92.90" fill="url(#gr)"/><polygon points="543.80,1194.60 543.80,1194.10 548.00,1190.50 548.00,1283.40 544.40,1287.5 543.80,1287.5" fill="url(#sr)"/><polygon points="530.40,1194.60 534.00,1190.50 548.00,1190.50 544.40,1194.60" fill="#f56655"/>
<rect x="549.60" y="1098.90" width="14.0" height="188.60" fill="url(#gd)"/><polygon points="563.00,1098.90 563.00,1098.40 567.20,1090.00 567.20,1278.60 563.60,1287.5 563.00,1287.5" fill="url(#sd)"/><polygon points="549.60,1098.90 553.20,1090.00 567.20,1090.00 563.60,1098.90" fill="#4d6473"/>
<rect x="569.40" y="1277.10" width="14.0" height="10.40" fill="url(#gy)"/><polygon points="582.80,1277.10 582.80,1276.60 587.00,1276.10 587.00,1286.50 583.40,1287.5 582.80,1287.5" fill="url(#sy)"/><polygon points="569.40,1277.10 573.00,1276.10 587.00,1276.10 583.40,1277.10" fill="#fed25a"/>
<rect x="615.93" y="1224.00" width="14.0" height="63.50" fill="url(#gr)"/><polygon points="629.33,1224.00 629.33,1223.50 633.53,1221.30 633.53,1284.80 629.93,1287.5 629.33,1287.5" fill="url(#sr)"/><polygon points="615.93,1224.00 619.53,1221.30 633.53,1221.30 629.93,1224.00" fill="#f56655"/>
<rect x="635.12" y="1127.70" width="14.0" height="159.80" fill="url(#gd)"/><polygon points="648.52,1127.70 648.52,1127.20 652.73,1120.10 652.73,1279.90 649.12,1287.5 648.52,1287.5" fill="url(#sd)"/><polygon points="635.12,1127.70 638.73,1120.10 652.73,1120.10 649.12,1127.70" fill="#4d6473"/>
<rect x="654.93" y="1283.00" width="14.0" height="4.50" fill="url(#gy)"/><polygon points="668.33,1283.00 668.33,1282.50 672.53,1282.00 672.53,1286.50 668.93,1287.5 668.33,1287.5" fill="url(#sy)"/><polygon points="654.93,1283.00 658.53,1282.00 672.53,1282.00 668.93,1283.00" fill="#fed25a"/>
<rect x="701.45" y="1223.00" width="14.0" height="64.50" fill="url(#gr)"/><polygon points="714.85,1223.00 714.85,1222.50 719.05,1219.90 719.05,1284.40 715.45,1287.5 714.85,1287.5" fill="url(#sr)"/><polygon points="701.45,1223.00 705.05,1219.90 719.05,1219.90 715.45,1223.00" fill="#f56655"/>
<rect x="720.65" y="1082.40" width="14.0" height="205.10" fill="url(#gd)"/><polygon points="734.05,1082.40 734.05,1081.90 738.25,1071.70 738.25,1276.80 734.65,1287.5 734.05,1287.5" fill="url(#sd)"/><polygon points="720.65,1082.40 724.25,1071.70 738.25,1071.70 734.65,1082.40" fill="#4d6473"/>
<rect x="740.45" y="1256.90" width="14.0" height="30.60" fill="url(#gy)"/><polygon points="753.85,1256.90 753.85,1256.40 758.05,1254.90 758.05,1285.50 754.45,1287.5 753.85,1287.5" fill="url(#sy)"/><polygon points="740.45,1256.90 744.05,1254.90 758.05,1254.90 754.45,1256.90" fill="#fed25a"/>
<rect x="786.98" y="1252.80" width="14.0" height="34.70" fill="url(#gr)"/><polygon points="800.38,1252.80 800.38,1252.30 804.58,1250.10 804.58,1284.80 800.98,1287.5 800.38,1287.5" fill="url(#sr)"/><polygon points="786.98,1252.80 790.58,1250.10 804.58,1250.10 800.98,1252.80" fill="#f56655"/>
<rect x="806.17" y="1208.10" width="14.0" height="79.40" fill="url(#gd)"/><polygon points="819.57,1208.10 819.57,1207.60 823.77,1204.00 823.77,1283.40 820.17,1287.5 819.57,1287.5" fill="url(#sd)"/><polygon points="806.17,1208.10 809.77,1204.00 823.77,1204.00 820.17,1208.10" fill="#4d6473"/>
<rect x="825.98" y="1281.20" width="14.0" height="6.30" fill="url(#gy)"/><polygon points="839.38,1281.20 839.38,1280.70 843.58,1280.20 843.58,1286.50 839.98,1287.5 839.38,1287.5" fill="url(#sy)"/><polygon points="825.98,1281.20 829.58,1280.20 843.58,1280.20 839.98,1281.20" fill="#fed25a"/>
<rect x="872.50" y="1237.40" width="14.0" height="50.10" fill="url(#gr)"/><polygon points="885.90,1237.40 885.90,1236.90 890.10,1234.90 890.10,1285.00 886.50,1287.5 885.90,1287.5" fill="url(#sr)"/><polygon points="872.50,1237.40 876.10,1234.90 890.10,1234.90 886.50,1237.40" fill="#f56655"/>
<rect x="891.70" y="1197.90" width="14.0" height="89.60" fill="url(#gd)"/><polygon points="905.10,1197.90 905.10,1197.40 909.30,1194.20 909.30,1283.80 905.70,1287.5 905.10,1287.5" fill="url(#sd)"/><polygon points="891.70,1197.90 895.30,1194.20 909.30,1194.20 905.70,1197.90" fill="#4d6473"/>
<rect x="911.50" y="1286.30" width="14.0" height="1.20" fill="url(#gy)"/><polygon points="924.90,1286.30 924.90,1285.80 929.10,1285.70 929.10,1286.90 925.50,1287.5 924.90,1287.5" fill="url(#sy)"/><polygon points="911.50,1286.30 915.10,1285.70 929.10,1285.70 925.50,1286.30" fill="#fed25a"/>
<rect x="958.02" y="1191.10" width="14.0" height="96.40" fill="url(#gr)"/><polygon points="971.42,1191.10 971.42,1190.60 975.62,1185.10 975.62,1281.50 972.02,1287.5 971.42,1287.5" fill="url(#sr)"/><polygon points="958.02,1191.10 961.62,1185.10 975.62,1185.10 972.02,1191.10" fill="#f56655"/>
<rect x="977.22" y="1036.10" width="14.0" height="251.40" fill="url(#gd)"/><polygon points="990.62,1036.10 990.62,1035.60 994.82,1024.00 994.82,1275.40 991.22,1287.5 990.62,1287.5" fill="url(#sd)"/><polygon points="977.22,1036.10 980.82,1024.00 994.82,1024.00 991.22,1036.10" fill="#4d6473"/>
<rect x="997.02" y="1286.30" width="14.0" height="1.20" fill="url(#gy)"/><polygon points="1010.42,1286.30 1010.42,1285.80 1014.62,1285.70 1014.62,1286.90 1011.02,1287.5 1010.42,1287.5" fill="url(#sy)"/><polygon points="997.02,1286.30 1000.62,1285.70 1014.62,1285.70 1011.02,1286.30" fill="#fed25a"/>
<rect x="1043.55" y="1210.60" width="14.0" height="76.90" fill="url(#gr)"/><polygon points="1056.95,1210.60 1056.95,1210.10 1061.15,1207.10 1061.15,1284.00 1057.55,1287.5 1056.95,1287.5" fill="url(#sr)"/><polygon points="1043.55,1210.60 1047.15,1207.10 1061.15,1207.10 1057.55,1210.60" fill="#f56655"/>
<rect x="1062.75" y="1036.10" width="14.0" height="251.40" fill="url(#gd)"/><polygon points="1076.15,1036.10 1076.15,1035.60 1080.35,1024.00 1080.35,1275.40 1076.75,1287.5 1076.15,1287.5" fill="url(#sd)"/><polygon points="1062.75,1036.10 1066.35,1024.00 1080.35,1024.00 1076.75,1036.10" fill="#4d6473"/>
<rect x="1082.55" y="1277.40" width="14.0" height="10.10" fill="url(#gy)"/><polygon points="1095.95,1277.40 1095.95,1276.90 1100.15,1276.40 1100.15,1286.50 1096.55,1287.5 1095.95,1287.5" fill="url(#sy)"/><polygon points="1082.55,1277.40 1086.15,1276.40 1100.15,1276.40 1096.55,1277.40" fill="#fed25a"/>
<rect x="1129.08" y="1214.30" width="14.0" height="73.20" fill="url(#gr)"/><polygon points="1142.48,1214.30 1142.48,1213.80 1146.67,1210.60 1146.67,1283.80 1143.08,1287.5 1142.48,1287.5" fill="url(#sr)"/><polygon points="1129.08,1214.30 1132.67,1210.60 1146.67,1210.60 1143.08,1214.30" fill="#f56655"/>
<rect x="1148.28" y="1087.80" width="14.0" height="199.70" fill="url(#gd)"/><polygon points="1161.68,1087.80 1161.68,1087.30 1165.88,1078.10 1165.88,1277.80 1162.28,1287.5 1161.68,1287.5" fill="url(#sd)"/><polygon points="1148.28,1087.80 1151.88,1078.10 1165.88,1078.10 1162.28,1087.80" fill="#4d6473"/>
<rect x="1168.08" y="1262.60" width="14.0" height="24.90" fill="url(#gy)"/><polygon points="1181.48,1262.60 1181.48,1262.10 1185.67,1261.40 1185.67,1286.30 1182.08,1287.5 1181.48,1287.5" fill="url(#sy)"/><polygon points="1168.08,1262.60 1171.67,1261.40 1185.67,1261.40 1182.08,1262.60" fill="#fed25a"/>
<line x1="173.2" y1="807.3" x2="1199.9" y2="807.3" stroke="#666" stroke-width="1.5"/>
<line x1="1199.9" y1="806.5999999999999" x2="1199.9" y2="1287.5" stroke="#2a282c" stroke-width="2"/>
<line x1="173.2" y1="1287.5" x2="1200.4" y2="1287.5" stroke="#333" stroke-width="1.8"/>
<line x1="173.2" y1="807.3" x2="173.2" y2="1288.0" stroke="#111" stroke-width="2"/>
<line x1="173.20" y1="1287.5" x2="173.20" y2="1296.5" stroke="#111" stroke-width="1.8"/>
<line x1="258.73" y1="1287.5" x2="258.73" y2="1296.5" stroke="#111" stroke-width="1.8"/>
<line x1="344.25" y1="1287.5" x2="344.25" y2="1296.5" stroke="#111" stroke-width="1.8"/>
<line x1="429.78" y1="1287.5" x2="429.78" y2="1296.5" stroke="#111" stroke-width="1.8"/>
<line x1="515.30" y1="1287.5" x2="515.30" y2="1296.5" stroke="#111" stroke-width="1.8"/>
<line x1="600.83" y1="1287.5" x2="600.83" y2="1296.5" stroke="#111" stroke-width="1.8"/>
<line x1="686.35" y1="1287.5" x2="686.35" y2="1296.5" stroke="#111" stroke-width="1.8"/>
<line x1="771.88" y1="1287.5" x2="771.88" y2="1296.5" stroke="#111" stroke-width="1.8"/>
<line x1="857.40" y1="1287.5" x2="857.40" y2="1296.5" stroke="#111" stroke-width="1.8"/>
<line x1="942.92" y1="1287.5" x2="942.92" y2="1296.5" stroke="#111" stroke-width="1.8"/>
<line x1="1028.45" y1="1287.5" x2="1028.45" y2="1296.5" stroke="#111" stroke-width="1.8"/>
<line x1="1113.98" y1="1287.5" x2="1113.98" y2="1296.5" stroke="#111" stroke-width="1.8"/>
<line x1="1199.50" y1="1287.5" x2="1199.50" y2="1296.5" stroke="#111" stroke-width="1.8"/>
<line x1="164.20" y1="1287.50" x2="173.2" y2="1287.50" stroke="#111" stroke-width="1.6"/>
<text x="158.2" y="1296.30" font-size="22.3" fill="#000" text-anchor="end">0</text>
<line x1="168.20" y1="1247.48" x2="173.2" y2="1247.48" stroke="#111" stroke-width="1.6"/>
<line x1="164.20" y1="1207.47" x2="173.2" y2="1207.47" stroke="#111" stroke-width="1.6"/>
<text x="158.2" y="1216.27" font-size="22.3" fill="#000" text-anchor="end">50</text>
<line x1="168.20" y1="1167.45" x2="173.2" y2="1167.45" stroke="#111" stroke-width="1.6"/>
<line x1="164.20" y1="1127.43" x2="173.2" y2="1127.43" stroke="#111" stroke-width="1.6"/>
<text x="158.2" y="1136.23" font-size="22.3" fill="#000" text-anchor="end">100</text>
<line x1="168.20" y1="1087.42" x2="173.2" y2="1087.42" stroke="#111" stroke-width="1.6"/>
<line x1="164.20" y1="1047.40" x2="173.2" y2="1047.40" stroke="#111" stroke-width="1.6"/>
<text x="158.2" y="1056.20" font-size="22.3" fill="#000" text-anchor="end">150</text>
<line x1="168.20" y1="1007.38" x2="173.2" y2="1007.38" stroke="#111" stroke-width="1.6"/>
<line x1="164.20" y1="967.37" x2="173.2" y2="967.37" stroke="#111" stroke-width="1.6"/>
<text x="158.2" y="976.17" font-size="22.3" fill="#000" text-anchor="end">200</text>
<line x1="168.20" y1="927.35" x2="173.2" y2="927.35" stroke="#111" stroke-width="1.6"/>
<line x1="164.20" y1="887.33" x2="173.2" y2="887.33" stroke="#111" stroke-width="1.6"/>
<text x="158.2" y="896.13" font-size="22.3" fill="#000" text-anchor="end">250</text>
<line x1="168.20" y1="847.32" x2="173.2" y2="847.32" stroke="#111" stroke-width="1.6"/>
<line x1="164.20" y1="807.30" x2="173.2" y2="807.30" stroke="#606060" stroke-width="1.6"/>
<text x="158.2" y="816.10" font-size="22.3" fill="#000" text-anchor="end">300</text>
<text transform="translate(216.36,1324.4) scale(1,1.04)" font-size="22.2" fill="#000" text-anchor="middle">Summer</text>
<text transform="translate(301.89,1324.4) scale(1,1.04)" font-size="22.2" fill="#000" text-anchor="middle">Fall</text>
<text transform="translate(387.41,1324.4) scale(1,1.04)" font-size="22.2" fill="#000" text-anchor="middle">Winter</text>
<text transform="translate(472.94,1324.4) scale(1,1.04)" font-size="22.2" fill="#000" text-anchor="middle">Spring</text>
<text transform="translate(558.46,1324.4) scale(1,1.04)" font-size="22.2" fill="#000" text-anchor="middle">Summer</text>
<text transform="translate(643.99,1324.4) scale(1,1.04)" font-size="22.2" fill="#000" text-anchor="middle">Fall</text>
<text transform="translate(729.51,1324.4) scale(1,1.04)" font-size="22.2" fill="#000" text-anchor="middle">Summer</text>
<text transform="translate(815.04,1324.4) scale(1,1.04)" font-size="22.2" fill="#000" text-anchor="middle">Fall</text>
<text transform="translate(900.56,1324.4) scale(1,1.04)" font-size="22.2" fill="#000" text-anchor="middle">Winter</text>
<text transform="translate(986.09,1324.4) scale(1,1.04)" font-size="22.2" fill="#000" text-anchor="middle">Spring</text>
<text transform="translate(1071.61,1324.4) scale(1,1.04)" font-size="22.2" fill="#000" text-anchor="middle">Summer</text>
<text transform="translate(1157.14,1324.4) scale(1,1.04)" font-size="22.2" fill="#000" text-anchor="middle">Fall</text>
<path d="M175.5,1331.3 Q175.5,1344.8 187.2,1344.8 L417.6,1344.8 Q429.3,1344.8 429.3,1331.3" fill="none" stroke="#000" stroke-width="2.6"/>
<path d="M435.3,1331.3 Q435.3,1344.8 447.0,1344.8 L666.0,1344.8 Q677.7,1344.8 677.7,1331.3" fill="none" stroke="#000" stroke-width="2.6"/>
<path d="M684.3,1331.3 Q684.3,1344.8 696.0,1344.8 L930.0999999999999,1344.8 Q941.8,1344.8 941.8,1331.3" fill="none" stroke="#000" stroke-width="2.6"/>
<path d="M947.3,1331.3 Q947.3,1344.8 959.0,1344.8 L1179.1,1344.8 Q1190.8,1344.8 1190.8,1331.3" fill="none" stroke="#000" stroke-width="2.6"/>
<text transform="translate(286.9,1379.6) scale(0.98,1.08)" font-size="30" fill="#000" text-anchor="middle">2018</text>
<text transform="translate(551.1,1382.0) scale(0.98,1.08)" font-size="30" fill="#000" text-anchor="middle">2019</text>
<text transform="translate(815.2,1382.0) scale(0.98,1.08)" font-size="30" fill="#000" text-anchor="middle">2020</text>
<text transform="translate(1078.0,1382.0) scale(0.98,1.08)" font-size="30" fill="#000" text-anchor="middle">2021</text>
<text transform="translate(109.9,943.0) rotate(-90) scale(1.04,1)" font-size="21.7" fill="#000" text-anchor="end">Deposition flux (Bq m<tspan font-size="15.5" dy="-5.8">-2</tspan><tspan dy="5.8"> season</tspan><tspan font-size="15.5" dy="-5.8">-1</tspan><tspan dy="5.8">)</tspan></text>
<rect x="916.7" y="842.7" width="14.3" height="14.6" rx="1" fill="url(#gr)"/><rect x="928.2" y="842.7" width="2.8" height="14.6" fill="#e0301c" opacity="0.6"/><rect x="1010.9" y="842.7" width="14.3" height="14.6" rx="1" fill="url(#gd)"/><rect x="1081" y="842.7" width="14.3" height="14.6" rx="1" fill="url(#gy)"/><rect x="1092.3" y="842.7" width="3" height="14.6" fill="url(#sy)"/>
<text x="946.5" y="857.3" font-size="19.5" fill="#000"><tspan font-size="13" dy="-5.3">210</tspan><tspan dy="5.3">Pb</tspan></text>
<text x="1037" y="857.3" font-size="19.5" fill="#000"><tspan font-size="13" dy="-5.3">7</tspan><tspan dy="5.3">Be</tspan></text>
<text x="1114.4" y="857.3" font-size="19.5" fill="#000"><tspan font-size="13" dy="-5.3">210</tspan><tspan dy="5.3">Po</tspan></text>
</svg></body></html>
